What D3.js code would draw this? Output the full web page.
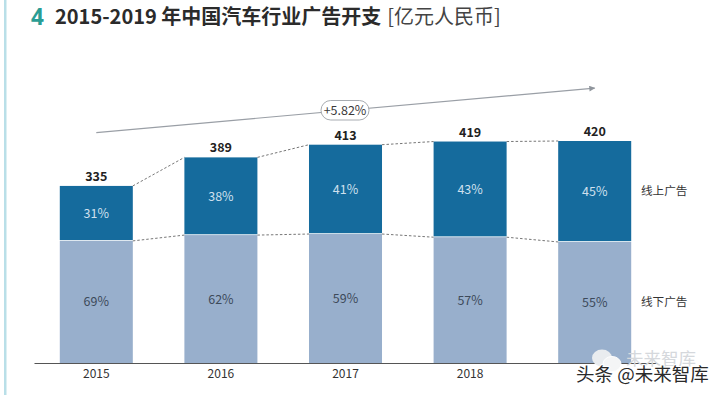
<!DOCTYPE html>
<html>
<head>
<meta charset="utf-8">
<script src="https://cdn.jsdelivr.net/npm/d3@7"></script>
<style>
  html, body { margin: 0; padding: 0; background: #fff; }
  svg { display: block; }
  text { font-family: "Noto Sans CJK SC", "Noto Sans", sans-serif; }
</style>
</head>
<body>
<div id="okvir"></div>
<script>
const years = ["2015", "2016", "2017", "2018", "2019"]
const totals = [335, 389, 413, 419, 420]
const offlineValues = [231, 242, 244, 238, 229]
const onlineShare = [31, 38, 41, 43, 45]
const offlineShare = [69, 62, 59, 57, 55]
const yearTicks = ["2015", "2016", "2017", "2018", ""]
const trendValues = [436, 520]
const trendLabel = "+5.82%"

const sirina = 720, visina = 395
const dno = 363

const okvir = d3.select("#okvir").append("svg")
  .attr("width", sirina)
  .attr("height", visina)

const x = d3.scaleBand()
  .domain(years)
  .range([34, 657])
  .paddingInner(0.414)
  .paddingOuter(0.207)

const y = d3.scaleLinear()
  .domain([0, 420])
  .range([dno, 141])

// offline segment sits at the bottom, its top is the split between the two segments
const splitY = i => y(offlineValues[i])

// lijeva linija stranice
okvir.append("rect")
  .attr("x", 4).attr("y", 0)
  .attr("width", 2.5).attr("height", visina)
  .attr("fill", "#b9dfe8")

// naslov
okvir.append("text")
  .attr("x", 31).attr("y", 24.5)
  .attr("font-size", 22.5).attr("font-weight", 700)
  .attr("fill", "#2a9d94")
  .style("font-family", '"Noto Sans", sans-serif')
  .text("4")

const naslov = okvir.append("text")
  .attr("x", 55).attr("y", 24)
  .attr("font-size", 20)
  .attr("fill", "#2b2b2b")
naslov.append("tspan").attr("font-weight", 700).text("2015-2019 年中国汽车行业广告开支")
naslov.append("tspan").attr("dx", 6).attr("font-weight", 400).attr("fill", "#444").text("[亿元人民币]")

// trend strelica
const defs = okvir.append("defs")
defs.append("marker")
  .attr("id", "vrh")
  .attr("viewBox", "0 0 10 10")
  .attr("refX", 9).attr("refY", 5)
  .attr("markerUnits", "userSpaceOnUse")
  .attr("markerWidth", 7).attr("markerHeight", 6)
  .attr("orient", "auto")
  .append("path")
  .attr("d", "M0,0L10,5L0,10Z")
  .attr("fill", "#8f959c")

const x0 = x(years[0]) + x.bandwidth() / 2
const x1 = x(years[4]) + x.bandwidth() / 2
okvir.append("line")
  .attr("x1", x0).attr("y1", y(trendValues[0]))
  .attr("x2", x1).attr("y2", y(trendValues[1]))
  .attr("stroke", "#9a9fa6")
  .attr("stroke-width", 1.2)
  .attr("marker-end", "url(#vrh)")

okvir.append("rect")
  .attr("x", 321).attr("y", 100.5)
  .attr("width", 48).attr("height", 19.5)
  .attr("rx", 9.7)
  .attr("fill", "#fff")
  .attr("stroke", "#a8acb1")

okvir.append("text")
  .attr("x", 345).attr("y", 115)
  .attr("text-anchor", "middle")
  .attr("font-size", 12.5)
  .attr("fill", "#3a3a3a")
  .text(trendLabel)

// stupci
const stupci = okvir.selectAll(".stupac")
  .data(years)
  .enter().append("g")
  .attr("class", "stupac")

stupci.append("rect")
  .attr("x", d => x(d))
  .attr("width", x.bandwidth())
  .attr("y", (d, i) => splitY(i))
  .attr("height", (d, i) => dno - splitY(i))
  .attr("fill", "#98afcc")

stupci.append("rect")
  .attr("x", d => x(d))
  .attr("width", x.bandwidth())
  .attr("y", (d, i) => y(totals[i]))
  .attr("height", (d, i) => splitY(i) - y(totals[i]) - 0.8)
  .attr("fill", "#156b9d")

stupci.append("text")
  .attr("x", d => x(d) + x.bandwidth() / 2)
  .attr("y", (d, i) => y(totals[i]) - 5)
  .attr("text-anchor", "middle")
  .attr("font-size", 12.5)
  .attr("font-weight", 700)
  .attr("fill", "#222")
  .text((d, i) => totals[i])

stupci.append("text")
  .attr("x", d => x(d) + x.bandwidth() / 2)
  .attr("y", (d, i) => (y(totals[i]) + splitY(i)) / 2 + 4.5)
  .attr("text-anchor", "middle")
  .attr("font-size", 12.5)
  .attr("fill", "#cfe0ee")
  .text((d, i) => onlineShare[i] + "%")

stupci.append("text")
  .attr("x", d => x(d) + x.bandwidth() / 2)
  .attr("y", (d, i) => (dno + splitY(i)) / 2 + 4.5)
  .attr("text-anchor", "middle")
  .attr("font-size", 12.5)
  .attr("fill", "#3d4a5a")
  .text((d, i) => offlineShare[i] + "%")

// isprekidane veze
const veze = years.slice(0, -1)
const crtaVeza = (gdje) => okvir.selectAll(null)
  .data(veze)
  .enter().append("line")
  .attr("x1", d => x(d) + x.bandwidth())
  .attr("x2", (d, i) => x(years[i + 1]))
  .attr("y1", (d, i) => gdje(i))
  .attr("y2", (d, i) => gdje(i + 1))
  .attr("stroke", "#666")
  .attr("stroke-width", 0.9)
  .attr("stroke-dasharray", "2.5 2")

crtaVeza(i => y(totals[i]))
crtaVeza(splitY)

// os
const os = okvir.append("g")
  .attr("transform", `translate(0,${dno})`)
  .call(d3.axisBottom(x).tickSize(0).tickPadding(6).tickFormat((d, i) => yearTicks[i]))
os.select(".domain").attr("stroke", "#555").attr("stroke-width", 1.2)
os.selectAll("text")
  .attr("font-size", 12)
  .attr("fill", "#333")
  .style("font-family", '"Noto Sans CJK SC", sans-serif')

// legenda
okvir.append("text")
  .attr("x", 641).attr("y", 195)
  .attr("font-size", 11.6).attr("fill", "#333")
  .text("线上广告")
okvir.append("text")
  .attr("x", 641).attr("y", 306)
  .attr("font-size", 11.6).attr("fill", "#333")
  .text("线下广告")

// vodeni zig
const zig = okvir.append("g")
zig.append("ellipse").attr("cx", 602).attr("cy", 358).attr("rx", 10).attr("ry", 8.5).attr("fill", "#e9ecef")
zig.append("ellipse").attr("cx", 612).attr("cy", 364).attr("rx", 9).attr("ry", 7.5).attr("fill", "#f4f5f6").attr("stroke", "#fff")
zig.append("text")
  .attr("x", 626).attr("y", 365)
  .attr("font-size", 17.5).attr("fill", "#d5d8dc")
  .text("未来智库")
zig.append("text")
  .attr("x", 576).attr("y", 381)
  .attr("font-size", 18.5).attr("fill", "#2a2a2a")
  .attr("stroke", "#fff").attr("stroke-width", 2).attr("paint-order", "stroke")
  .text("头条 @未来智库")
</script>
</body>
</html>
